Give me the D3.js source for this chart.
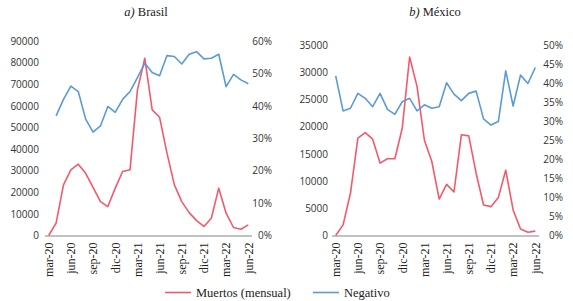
<!DOCTYPE html>
<html><head><meta charset="utf-8">
<script src="https://cdn.jsdelivr.net/npm/d3@7"></script>
<style>
body{margin:0;background:#fff;}
svg{display:block;}
</style></head>
<body>
<svg id="chart" width="573" height="301"></svg>
<script>
const months = ["mar-20","abr-20","may-20","jun-20","jul-20","ago-20","sep-20","oct-20","nov-20","dic-20",
"ene-21","feb-21","mar-21","abr-21","may-21","jun-21","jul-21","ago-21","sep-21","oct-21","nov-21","dic-21",
"ene-22","feb-22","mar-22","abr-22","may-22","jun-22"];
const tickMonths = ["mar-20","jun-20","sep-20","dic-20","mar-21","jun-21","sep-21","dic-21","mar-22","jun-22"];

const brasilMuertos = [0,5700,23400,30400,33000,28800,22300,15700,13400,21900,29600,30400,67300,82000,
58100,54700,38100,23400,15700,10600,6900,4200,8000,21900,10300,3700,2900,4900];
const brasilNegativo = [null,36.9,42.0,46.1,44.4,35.9,31.9,33.8,39.8,38.0,42.0,44.4,48.7,53.1,
50.3,49.3,55.5,55.2,52.9,55.9,56.7,54.5,54.7,55.9,45.9,49.7,48.0,46.8];

const mexicoMuertos = [0,1960,7800,17900,18900,17700,13300,14100,14100,19700,32800,27400,17500,13600,
6700,9400,8000,18500,18300,11400,5600,5300,7000,12000,4700,1200,600,800];
const mexicoNegativo = [41.9,32.7,33.4,37.3,36.0,33.8,37.3,33.1,31.8,35.1,36.0,32.7,34.3,33.4,
33.8,40.1,37.1,35.4,37.3,37.9,30.6,29.0,29.9,43.2,34.0,42.1,39.9,44.1];

const brasilLeftTicks = [0,10000,20000,30000,40000,50000,60000,70000,80000,90000];
const brasilRightTicks = [0,10,20,30,40,50,60];
const mexicoLeftTicks = [0,5000,10000,15000,20000,25000,30000,35000];
const mexicoRightTicks = [0,5,10,15,20,25,30,35,40,45,50];

const RED = "#f25a6c", BLUE = "#5b9bd5";
const svg = d3.select("#chart");

function panel(cfg){
  const g = svg.append("g");
  const x = d3.scalePoint().domain(months).range([cfg.x0, cfg.x1]).padding(0.5);
  const yL = d3.scaleLinear().domain([0, cfg.leftMax]).range([cfg.yBot, cfg.yTop]);
  const yR = d3.scaleLinear().domain([0, cfg.rightMax]).range([cfg.yBot, cfg.yTop]);

  const t = g.append("text").attr("x", cfg.titleX).attr("y", 16).attr("text-anchor","middle")
    .style("font-family","'Liberation Serif', serif").style("font-size","12.5px").attr("fill","#222");
  t.append("tspan").style("font-style","italic").text(cfg.letter + ")");
  t.append("tspan").text(" " + cfg.name);

  const axL = d3.axisLeft(yL).tickValues(cfg.leftTicks).tickSize(0).tickPadding(0).tickFormat(d3.format("d"));
  const gL = g.append("g").attr("transform", `translate(${cfg.leftLabelX},0)`).call(axL);
  gL.select(".domain").remove();
  gL.selectAll("text").style("font-family","'Open Sans', sans-serif").style("font-size","10px").attr("fill","#333");

  const axR = d3.axisLeft(yR).tickValues(cfg.rightTicks).tickSize(0).tickPadding(0).tickFormat(d => d + "%");
  const gR = g.append("g").attr("transform", `translate(${cfg.rightLabelX},0)`).call(axR);
  gR.select(".domain").remove();
  gR.selectAll("text").style("font-family","'Open Sans', sans-serif").style("font-size","10px").attr("fill","#333");

  const axX = d3.axisBottom(x).tickValues(tickMonths).tickSize(0).tickPadding(0);
  const gX = g.append("g").attr("transform", `translate(0,${cfg.yBot})`).call(axX);
  gX.select(".domain").attr("stroke","#868686").attr("stroke-width",1.2)
    .attr("d", `M${cfg.x0},0.5H${cfg.x1}`);
  gX.selectAll("text")
    .attr("transform","rotate(-90)")
    .attr("text-anchor","end")
    .attr("x",-7).attr("y",0).attr("dy","0.32em")
    .style("font-family","'Liberation Serif', serif").style("font-size","12px").attr("fill","#222");

  const lineL = d3.line().defined(d => d != null).x((d,i) => x(months[i])).y(d => yL(d));
  const lineR = d3.line().defined(d => d != null).x((d,i) => x(months[i])).y(d => yR(d));
  g.append("path").datum(cfg.muertos).attr("d", lineL).attr("fill","none")
    .attr("stroke", RED).attr("stroke-width",1.6).attr("stroke-linejoin","round");
  g.append("path").datum(cfg.negativo).attr("d", lineR).attr("fill","none")
    .attr("stroke", BLUE).attr("stroke-width",1.6).attr("stroke-linejoin","round");
}

panel({letter:"a", name:"Brasil", titleX:146, x0:45, x1:252, yTop:41, yBot:235.5,
  leftMax:90000, rightMax:60, leftTicks:brasilLeftTicks, rightTicks:brasilRightTicks,
  leftLabelX:39, rightLabelX:272, muertos:brasilMuertos, negativo:brasilNegativo});
panel({letter:"b", name:"México", titleX:435, x0:332, x1:539, yTop:45, yBot:235.5,
  leftMax:35000, rightMax:50, leftTicks:mexicoLeftTicks, rightTicks:mexicoRightTicks,
  leftLabelX:328, rightLabelX:563, muertos:mexicoMuertos, negativo:mexicoNegativo});

const series = ["Muertos (mensual)","Negativo"];
const legend = svg.append("g");
const legX = [165, 313];
series.forEach((s,i) => {
  legend.append("line").attr("x1",legX[i]).attr("x2",legX[i]+26).attr("y1",292.5).attr("y2",292.5)
    .attr("stroke", i===0?RED:BLUE).attr("stroke-width",1.6);
  legend.append("text").attr("x",legX[i]+31).attr("y",296.5).text(s)
    .style("font-family","'Liberation Serif', serif").style("font-size","12.5px").attr("fill","#222");
});
</script>
</body></html>
